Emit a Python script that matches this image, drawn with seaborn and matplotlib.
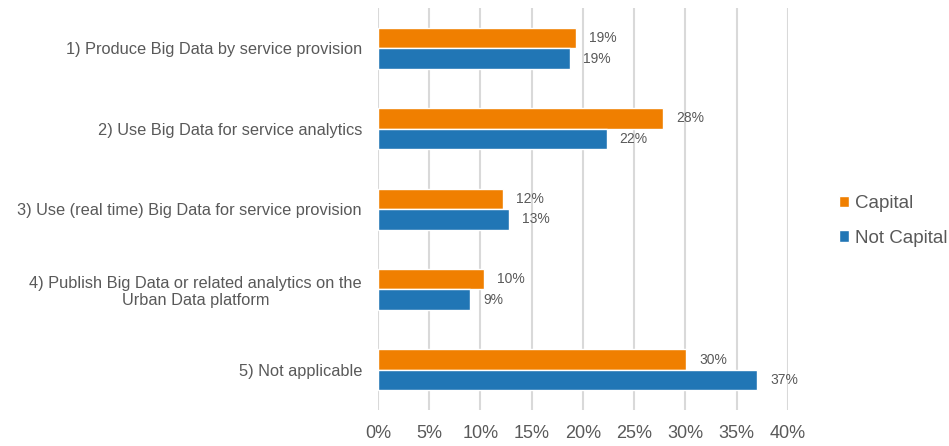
import pandas as pd
import matplotlib.pyplot as plt
import seaborn as sns

categorias = [
    '1) Produce Big Data by service provision',
    '2) Use Big Data for service analytics',
    '3) Use (real time) Big Data for service provision',
    '4) Publish Big Data or related analytics on the\nUrban Data platform',
    '5) Not applicable',
]
capital = [19.3, 27.8, 12.2, 10.3, 30.1]
nao_capital = [18.7, 22.3, 12.8, 9.0, 37.0]
grupos = ['Capital', 'Not Capital']
cores = ['#F07F00', '#2176B5']
ticks_x = [0, 5, 10, 15, 20, 25, 30, 35, 40]

df = pd.DataFrame({
    'Categoria': categorias * 2,
    'Valor': capital + nao_capital,
    'Grupo': [grupos[0]] * len(categorias) + [grupos[1]] * len(categorias),
})

sns.set_style('white')
plt.rcParams['font.family'] = ['Liberation Sans', 'DejaVu Sans']
cinza = '#595959'

fig = plt.figure(figsize=(9.49, 4.46), dpi=100)
ax = fig.add_axes([0.3983, 0.0807, 0.432, 0.901])

sns.barplot(data=df, y='Categoria', x='Valor', hue='Grupo', order=categorias,
            hue_order=grupos, palette=cores, width=0.51, orient='h',
            saturation=1, ax=ax, zorder=3)

for cont in ax.containers:
    ax.bar_label(cont, fmt='{:.0f}%', padding=9.5, fontsize=10, color=cinza)

ax.set_xlim(0, 40)
ax.set_xticks(ticks_x)
ax.set_xticklabels([f'{t}%' for t in ticks_x])
ax.grid(axis='x', color='#D9D9D9', linewidth=1.5, zorder=0)
ax.set_axisbelow(True)
for s in ax.spines.values():
    s.set_visible(False)
ax.set_xlabel('')
ax.set_ylabel('')
ax.tick_params(axis='x', length=0, labelsize=13, labelcolor=cinza, pad=11)
ax.tick_params(axis='y', length=0, labelsize=11.8, labelcolor=cinza, pad=11.5)
for lab in ax.get_yticklabels():
    lab.set_multialignment('center')

ax.legend(loc='center left', bbox_to_anchor=(0.866, 0.505), bbox_transform=fig.transFigure,
          frameon=False, fontsize=13.5, handlelength=0.55, handleheight=0.55,
          handletextpad=0.3, labelspacing=0.95, labelcolor=cinza)

plt.savefig('out.png', dpi=100)
